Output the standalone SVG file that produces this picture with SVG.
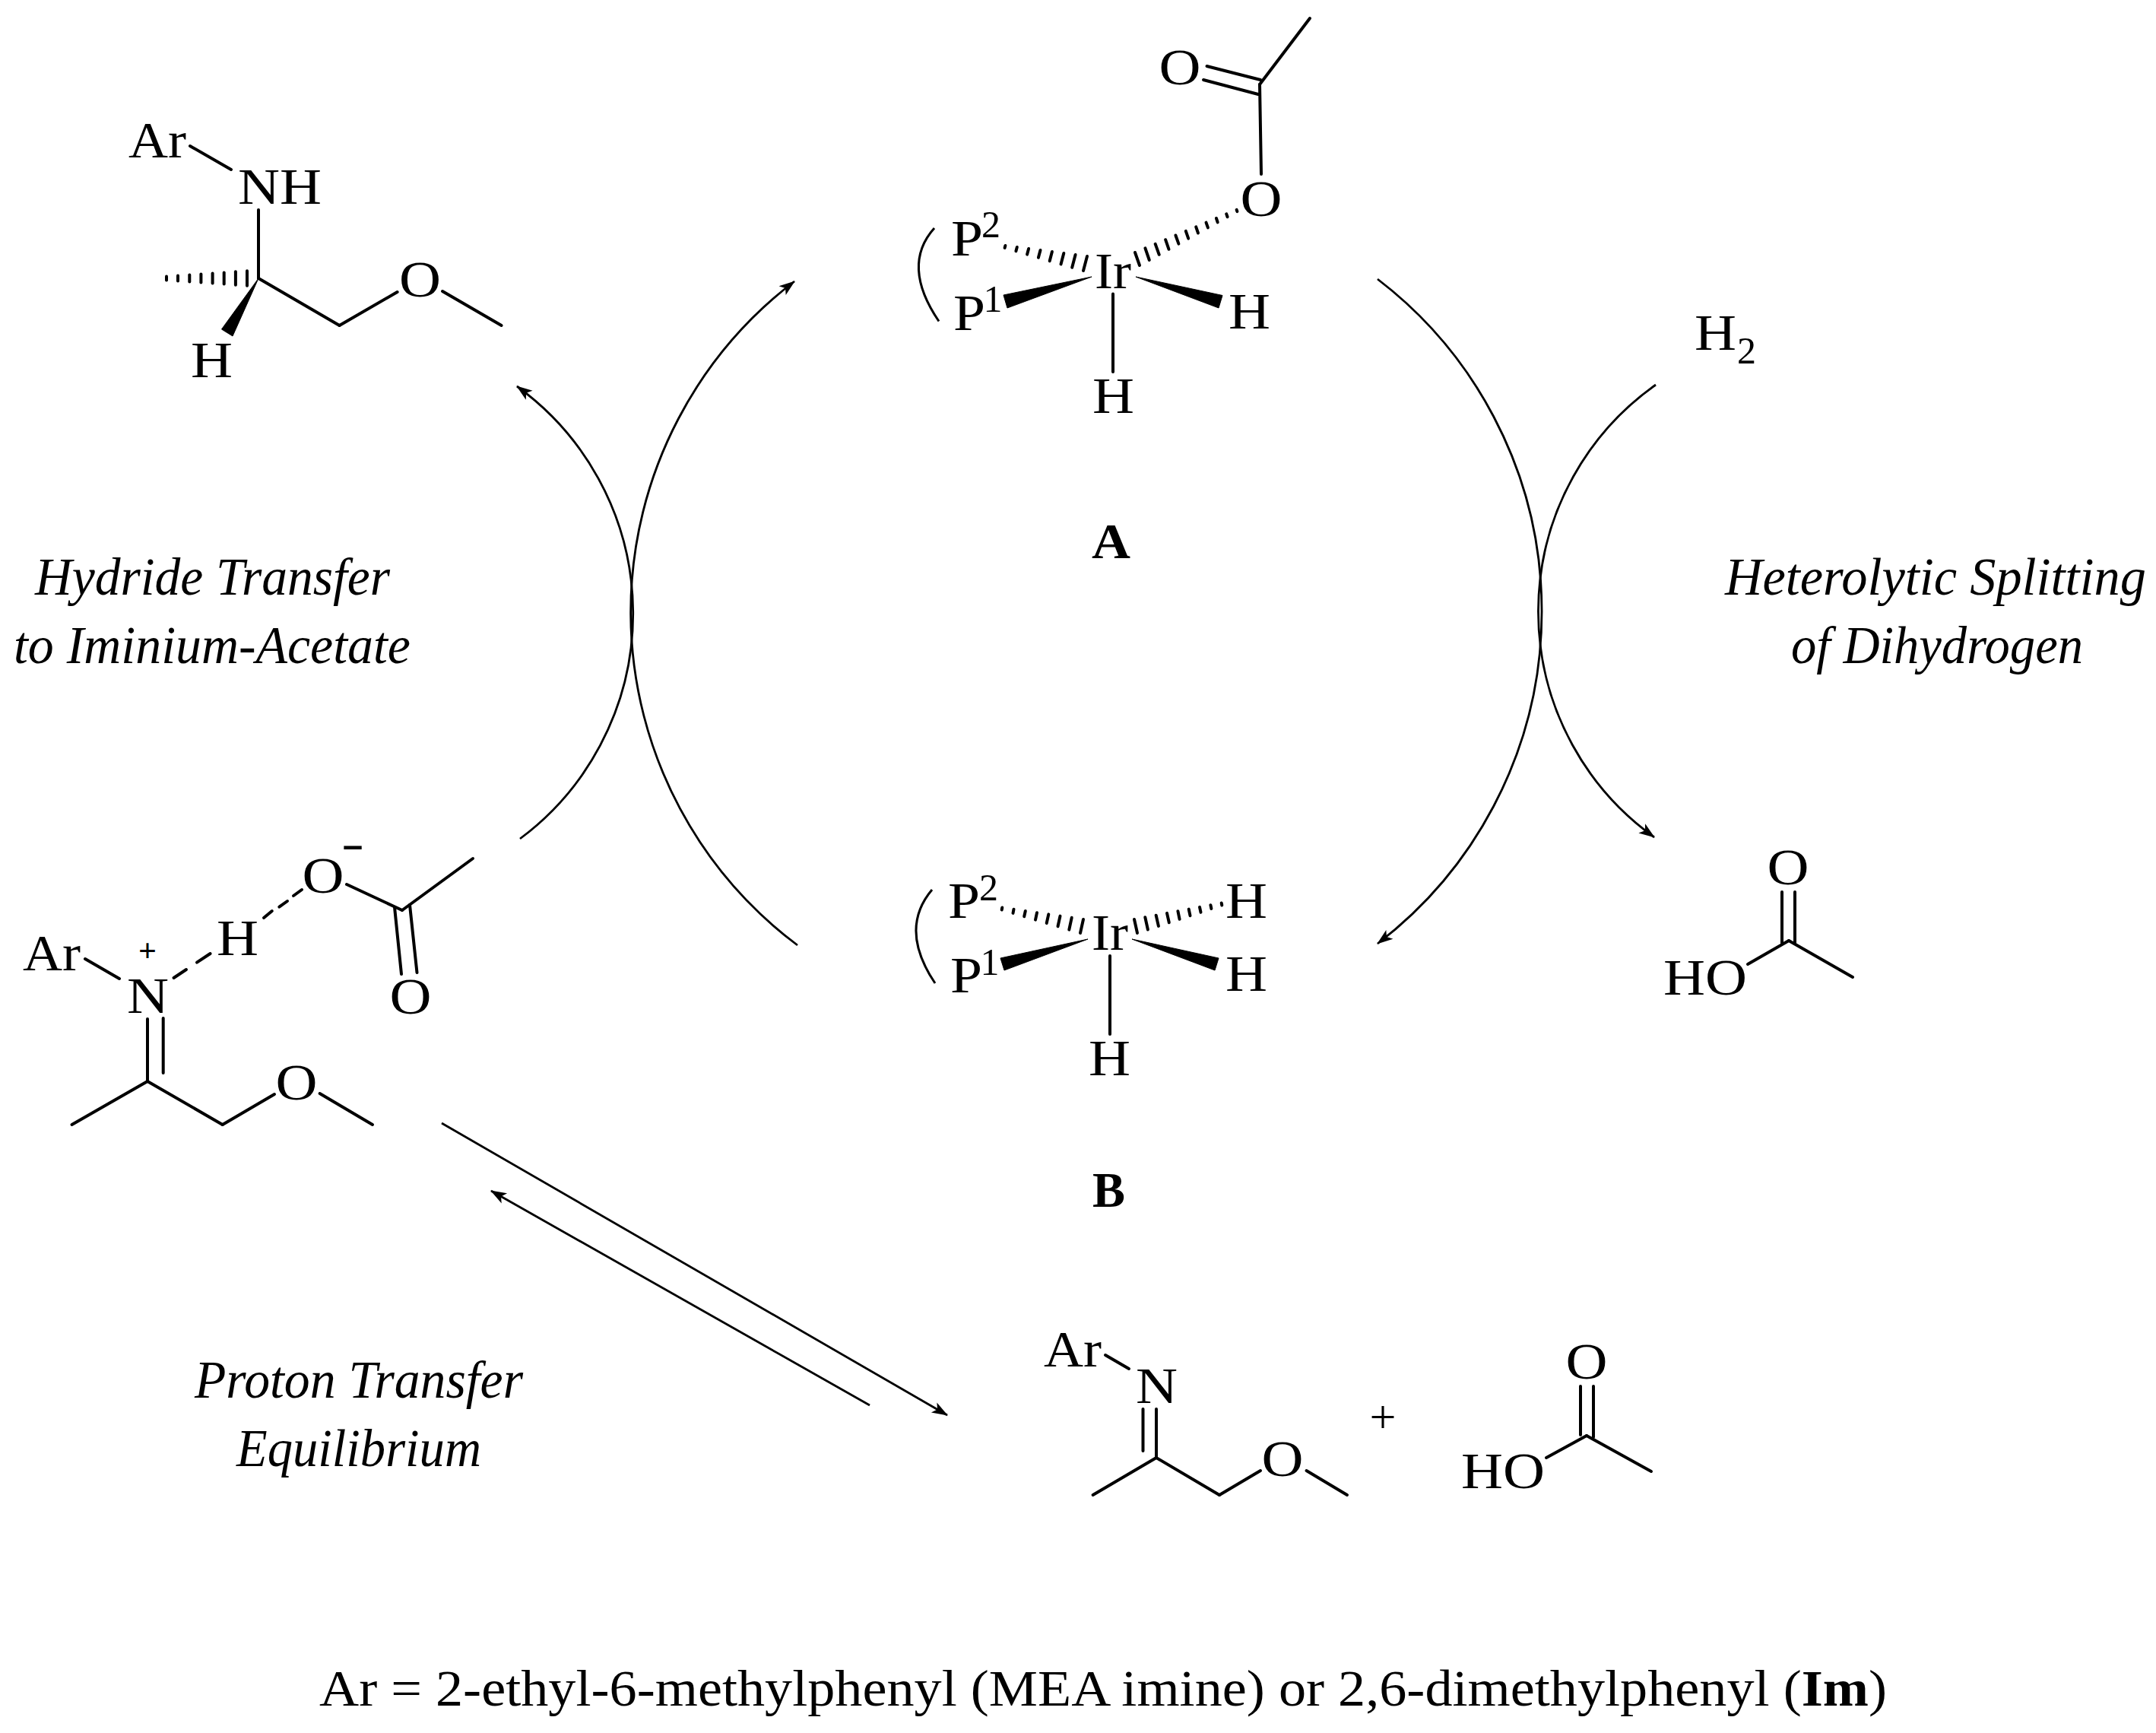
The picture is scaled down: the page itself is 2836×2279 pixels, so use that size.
<svg xmlns="http://www.w3.org/2000/svg" width="2836" height="2279" viewBox="0 0 2836 2279">
<defs>
<marker id="head" markerUnits="userSpaceOnUse" markerWidth="26" markerHeight="20" refX="23" refY="10" orient="auto"><path d="M24,10 L3,2.5 L8,10 L3,17.5 Z" fill="#000"/></marker>
</defs>
<style>
text{font-family:"Liberation Serif","Times New Roman",serif;fill:#000}
.a{font-size:67px}
.s{font-size:50px}
.l{font-size:70px;font-style:italic}
.b{font-size:66px;font-weight:bold}
.f{font-size:68px}
.bond line,.bond path{stroke:#000;stroke-width:4;fill:none;stroke-linecap:round}
.hash line{stroke:#000;stroke-width:4;stroke-linecap:round}
.wedge{fill:#000;stroke:#000;stroke-width:1;stroke-linejoin:round}
.paren{stroke:#000;stroke-width:3;fill:none}
.conn path,.conn line{stroke:#000;stroke-width:2.8;fill:none}
</style>
<rect width="2836" height="2279" fill="#fff"/>

<g id="connectors" class="conn">
<path d="M1812,367 A550,550 0 0 1 1812,1241" marker-end="url(#head)"/>
<path d="M2178,506 A365,365 0 0 0 2176,1101" marker-end="url(#head)"/>
<path d="M1049,1243 A547,547 0 0 1 1045,370" marker-end="url(#head)"/>
<path d="M684,1103 A369,369 0 0 0 680,508" marker-end="url(#head)"/>
<line x1="581" y1="1477" x2="1246" y2="1861" marker-end="url(#head)"/>
<line x1="1144" y1="1848" x2="646" y2="1566" marker-end="url(#head)"/>
</g>

<g id="node-A">
<g class="bond">
<line x1="1723" y1="24" x2="1657" y2="111"/><line x1="1657" y1="111" x2="1659" y2="229"/>
<line x1="1587.5" y1="87" x2="1658" y2="105"/><line x1="1583" y1="105" x2="1655" y2="124"/>
<line x1="1464" y1="386.6" x2="1464" y2="489"/>
</g>
<g class="hash">
<line x1="1322.4" y1="323" x2="1321.6" y2="326"/><line x1="1337.8" y1="325" x2="1336.4" y2="330.2"/><line x1="1353.1" y1="327" x2="1351.1" y2="334.6"/><line x1="1368.5" y1="329" x2="1365.9" y2="338.8"/><line x1="1383.9" y1="331" x2="1380.7" y2="343.2"/><line x1="1399.3" y1="333" x2="1395.5" y2="347.4"/><line x1="1414.6" y1="335" x2="1410.2" y2="351.8"/><line x1="1430" y1="337" x2="1425" y2="356"/>
<line x1="1626.6" y1="275.8" x2="1627.4" y2="278.2"/><line x1="1613.2" y1="281.4" x2="1614.6" y2="285.3"/><line x1="1599.9" y1="287" x2="1601.7" y2="292.4"/><line x1="1586.5" y1="292.6" x2="1588.9" y2="299.4"/><line x1="1573.2" y1="298.3" x2="1576" y2="306.5"/><line x1="1559.8" y1="303.9" x2="1563.2" y2="313.6"/><line x1="1546.4" y1="309.5" x2="1550.4" y2="320.7"/><line x1="1533.1" y1="315.2" x2="1537.5" y2="327.8"/><line x1="1519.7" y1="320.8" x2="1524.7" y2="334.8"/><line x1="1506.4" y1="326.4" x2="1511.8" y2="342"/><line x1="1493" y1="332" x2="1499" y2="349"/>
</g>
<polygon class="wedge" points="1436,364 1320,388 1325,405"/>
<polygon class="wedge" points="1494,364 1608,388.5 1603,405"/>
<path class="paren" d="M1229,300 Q1185,349 1235,422.5"/>
<text class="a" x="1524.5" y="111" textLength="55" lengthAdjust="spacingAndGlyphs">O</text>
<text class="a" x="1631.5" y="284" textLength="55" lengthAdjust="spacingAndGlyphs">O</text>
<text class="a" x="1251" y="336"><tspan textLength="42" lengthAdjust="spacingAndGlyphs">P</tspan><tspan class="s" x="1291" y="312">2</tspan></text>
<text class="a" x="1254" y="434"><tspan textLength="42" lengthAdjust="spacingAndGlyphs">P</tspan><tspan class="s" x="1293.5" y="410">1</tspan></text>
<text class="a" x="1440" y="379" textLength="48" lengthAdjust="spacingAndGlyphs">Ir</text>
<text class="a" x="1616" y="432" textLength="55" lengthAdjust="spacingAndGlyphs">H</text>
<text class="a" x="1437" y="543" textLength="55" lengthAdjust="spacingAndGlyphs">H</text>
<text class="b" x="1436" y="734" textLength="51" lengthAdjust="spacingAndGlyphs">A</text>
</g>

<g id="node-B">
<g class="bond"><line x1="1460" y1="1257" x2="1460" y2="1360"/></g>
<g class="hash">
<line x1="1318.3" y1="1193.5" x2="1317.7" y2="1196.5"/><line x1="1333.5" y1="1195.7" x2="1332.5" y2="1200.9"/><line x1="1348.8" y1="1198" x2="1347.2" y2="1205.2"/><line x1="1364" y1="1200.2" x2="1362" y2="1209.6"/><line x1="1379.3" y1="1202.4" x2="1376.7" y2="1214"/><line x1="1394.5" y1="1204.6" x2="1391.5" y2="1218.3"/><line x1="1409.7" y1="1206.8" x2="1406.3" y2="1222.6"/><line x1="1425" y1="1209" x2="1421" y2="1227"/>
<line x1="1606.7" y1="1187.5" x2="1607.3" y2="1190.5"/><line x1="1592.4" y1="1190.2" x2="1593.4" y2="1195"/><line x1="1578" y1="1192.9" x2="1579.5" y2="1199.7"/><line x1="1563.7" y1="1195.6" x2="1565.5" y2="1204.2"/><line x1="1549.4" y1="1198.2" x2="1551.6" y2="1208.8"/><line x1="1535" y1="1200.9" x2="1537.8" y2="1213.3"/><line x1="1520.7" y1="1203.7" x2="1523.9" y2="1217.9"/><line x1="1506.3" y1="1206.3" x2="1509.9" y2="1222.5"/><line x1="1492" y1="1209" x2="1496" y2="1227"/>
</g>
<polygon class="wedge" points="1431,1235 1316,1260 1321,1276"/>
<polygon class="wedge" points="1489,1235 1603,1260 1598,1276"/>
<path class="paren" d="M1226,1170 Q1182,1222 1230,1293"/>
<text class="a" x="1247" y="1207"><tspan textLength="42" lengthAdjust="spacingAndGlyphs">P</tspan><tspan class="s" x="1288" y="1184">2</tspan></text>
<text class="a" x="1250" y="1305"><tspan textLength="42" lengthAdjust="spacingAndGlyphs">P</tspan><tspan class="s" x="1289.5" y="1282">1</tspan></text>
<text class="a" x="1436" y="1249" textLength="48" lengthAdjust="spacingAndGlyphs">Ir</text>
<text class="a" x="1612" y="1207" textLength="55" lengthAdjust="spacingAndGlyphs">H</text>
<text class="a" x="1612" y="1303" textLength="55" lengthAdjust="spacingAndGlyphs">H</text>
<text class="a" x="1432" y="1414" textLength="55" lengthAdjust="spacingAndGlyphs">H</text>
<text class="b" x="1437" y="1587" textLength="43" lengthAdjust="spacingAndGlyphs">B</text>
</g>

<g id="node-amine">
<g class="bond">
<line x1="250" y1="192" x2="304" y2="223"/><line x1="340" y1="276" x2="340" y2="366"/><line x1="340" y1="366" x2="446.5" y2="428"/><line x1="446.5" y1="428" x2="522.6" y2="384"/><line x1="582" y1="383" x2="659.6" y2="428"/>
</g>
<g class="hash">
<line x1="219" y1="363.5" x2="219" y2="368.5"/><line x1="234" y1="362.5" x2="234" y2="369.5"/><line x1="249.3" y1="361.4" x2="249.3" y2="370.6"/><line x1="264.4" y1="360.4" x2="264.4" y2="371.6"/><line x1="279.6" y1="359.4" x2="279.6" y2="372.6"/><line x1="294.7" y1="358.4" x2="294.7" y2="373.6"/><line x1="309.9" y1="357.3" x2="309.9" y2="374.7"/><line x1="325" y1="356.3" x2="325" y2="375.7"/>
</g>
<polygon class="wedge" points="340,366 291.5,433 306,442"/>
<text class="a" x="169" y="207" textLength="76" lengthAdjust="spacingAndGlyphs">Ar</text>
<text class="a" x="313" y="268" textLength="110" lengthAdjust="spacingAndGlyphs">NH</text>
<text class="a" x="525" y="390" textLength="55" lengthAdjust="spacingAndGlyphs">O</text>
<text class="a" x="251" y="496" textLength="55" lengthAdjust="spacingAndGlyphs">H</text>
</g>

<g id="node-iminium-acetate">
<g class="bond">
<line x1="112" y1="1261" x2="157" y2="1287"/>
<line x1="228.5" y1="1286" x2="245" y2="1275"/><line x1="259" y1="1265.7" x2="276.6" y2="1254"/>
<line x1="347" y1="1207" x2="357.8" y2="1198"/><line x1="367.3" y1="1192.7" x2="378" y2="1185"/><line x1="386" y1="1178" x2="397" y2="1170"/>
<line x1="456" y1="1163" x2="529" y2="1197"/><line x1="529" y1="1197" x2="622" y2="1129"/>
<line x1="519" y1="1193" x2="528" y2="1281"/><line x1="539" y1="1190" x2="548.5" y2="1279"/>
<line x1="194" y1="1340" x2="194" y2="1422"/><line x1="214.7" y1="1339" x2="214.7" y2="1411"/>
<line x1="94.5" y1="1479" x2="194" y2="1422"/><line x1="194" y1="1422" x2="292.7" y2="1479"/><line x1="292.7" y1="1479" x2="361" y2="1439"/><line x1="420.6" y1="1438" x2="490" y2="1479"/>
</g>
<text class="a" x="30" y="1276" textLength="76" lengthAdjust="spacingAndGlyphs">Ar</text>
<text class="a" x="167" y="1332" textLength="55" lengthAdjust="spacingAndGlyphs">N</text>
<text x="194" y="1264" font-size="42" font-weight="bold" text-anchor="middle">+</text>
<text class="a" x="285" y="1256" textLength="55" lengthAdjust="spacingAndGlyphs">H</text>
<text class="a" x="397.5" y="1174" textLength="55" lengthAdjust="spacingAndGlyphs">O</text>
<text x="449" y="1129" font-size="62" textLength="30" lengthAdjust="spacingAndGlyphs">-</text>
<text class="a" x="512.5" y="1333" textLength="55" lengthAdjust="spacingAndGlyphs">O</text>
<text class="a" x="362.5" y="1446" textLength="55" lengthAdjust="spacingAndGlyphs">O</text>
</g>

<g id="node-imine">
<g class="bond">
<line x1="1454" y1="1782" x2="1485" y2="1800"/>
<line x1="1503.5" y1="1853" x2="1503.5" y2="1908"/><line x1="1521" y1="1853" x2="1521" y2="1917"/>
<line x1="1437.6" y1="1966" x2="1521" y2="1917"/><line x1="1521" y1="1917" x2="1604" y2="1966"/><line x1="1604" y1="1966" x2="1658" y2="1934"/><line x1="1718.5" y1="1934" x2="1772" y2="1966"/>
</g>
<text class="a" x="1373" y="1797" textLength="76" lengthAdjust="spacingAndGlyphs">Ar</text>
<text class="a" x="1494" y="1845" textLength="55" lengthAdjust="spacingAndGlyphs">N</text>
<text class="a" x="1659.5" y="1941" textLength="55" lengthAdjust="spacingAndGlyphs">O</text>
</g>

<text id="plus" x="1819" y="1884" font-size="62" text-anchor="middle">+</text>

<g id="node-acetic-acid-lower">
<g class="bond">
<line x1="2034" y1="1917" x2="2087" y2="1888"/><line x1="2087" y1="1888" x2="2172" y2="1935"/>
<line x1="2079" y1="1823" x2="2079" y2="1887"/><line x1="2096" y1="1823" x2="2096" y2="1890"/>
</g>
<text class="a" x="1922" y="1957" textLength="110" lengthAdjust="spacingAndGlyphs">HO</text>
<text class="a" x="2059.5" y="1813" textLength="55" lengthAdjust="spacingAndGlyphs">O</text>
</g>

<g id="node-acetic-acid-upper">
<g class="bond">
<line x1="2299" y1="1268" x2="2353" y2="1237"/><line x1="2353" y1="1237" x2="2437" y2="1285"/>
<line x1="2344" y1="1173" x2="2344" y2="1240"/><line x1="2361" y1="1173" x2="2361" y2="1240"/>
</g>
<text class="a" x="2188" y="1308" textLength="110" lengthAdjust="spacingAndGlyphs">HO</text>
<text class="a" x="2324.5" y="1163" textLength="55" lengthAdjust="spacingAndGlyphs">O</text>
</g>

<g id="node-H2">
<text class="a" x="2229" y="460"><tspan textLength="55" lengthAdjust="spacingAndGlyphs">H</tspan><tspan class="s" x="2285" y="478">2</tspan></text>
</g>

<g id="labels">
<text class="l" x="46" y="782" textLength="467" lengthAdjust="spacingAndGlyphs">Hydride Transfer</text>
<text class="l" x="18" y="872" textLength="522" lengthAdjust="spacingAndGlyphs">to Iminium-Acetate</text>
<text class="l" x="2269" y="782" textLength="554" lengthAdjust="spacingAndGlyphs">Heterolytic Splitting</text>
<text class="l" x="2356" y="872" textLength="384" lengthAdjust="spacingAndGlyphs">of Dihydrogen</text>
<text class="l" x="256" y="1838" textLength="432" lengthAdjust="spacingAndGlyphs">Proton Transfer</text>
<text class="l" x="311" y="1928" textLength="322" lengthAdjust="spacingAndGlyphs">Equilibrium</text>
<text class="f" x="420" y="2243" textLength="2062" lengthAdjust="spacingAndGlyphs">Ar = 2-ethyl-6-methylphenyl (MEA imine) or 2,6-dimethylphenyl (<tspan font-weight="bold">Im</tspan>)</text>
</g>
</svg>
